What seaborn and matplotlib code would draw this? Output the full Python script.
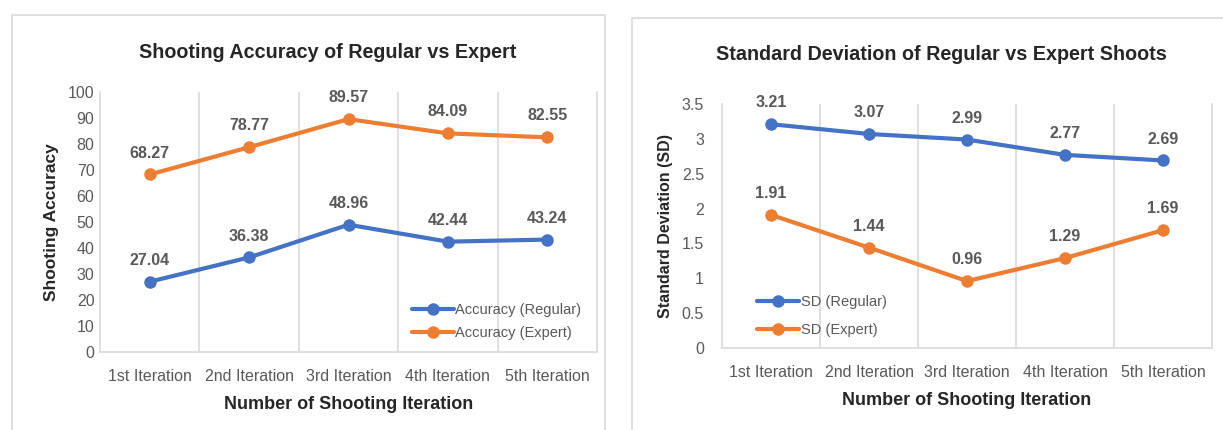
import matplotlib
matplotlib.use("Agg")
import matplotlib.pyplot as plt
import seaborn as sns
import pandas as pd
from matplotlib.patches import Rectangle

# Data
iterations = ['1st Iteration', '2nd Iteration', '3rd Iteration', '4th Iteration', '5th Iteration']
acc_regular = [27.04, 36.38, 48.96, 42.44, 43.24]
acc_expert = [68.27, 78.77, 89.57, 84.09, 82.55]
sd_regular = [3.21, 3.07, 2.99, 2.77, 2.69]
sd_expert = [1.91, 1.44, 0.96, 1.29, 1.69]

acc_yticks = list(range(0, 101, 10))
sd_yticks = [0, 0.5, 1, 1.5, 2, 2.5, 3, 3.5]

BLUE = '#4472C4'
ORANGE = '#ED7D31'
GREY = '#595959'
GRID = '#D9D9D9'

sns.set_style('white')
plt.rcParams['font.family'] = ['Liberation Sans', 'DejaVu Sans']

W, H = 1223, 430
fig = plt.figure(figsize=(W / 100, H / 100), dpi=100)

# panel frames like the spreadsheet chart boxes
fig.patches.append(Rectangle((12 / W, -0.01), 593 / W, 1 - 15 / H + 0.01,
                             transform=fig.transFigure, fill=False, edgecolor=GRID, lw=1.2))
fig.patches.append(Rectangle((632 / W, -0.01), 600 / W, 1 - 18 / H + 0.01,
                             transform=fig.transFigure, fill=False, edgecolor=GRID, lw=1.2))

ax1 = fig.add_axes([100 / W, 1 - 352 / H, 497 / W, 260 / H])
ax2 = fig.add_axes([722 / W, 1 - 348 / H, 490 / W, 244 / H])


def draw(ax, reg, exp, names, yticks, ymax, ylabel, ylabel_size, ytick_pad,
         legend_loc, legend_anchor, legend_space):
    df = pd.DataFrame({'Iteration': iterations * 2,
                       'Value': reg + exp,
                       'Series': [names[0]] * 5 + [names[1]] * 5})
    sns.lineplot(data=df, x='Iteration', y='Value', hue='Series',
                 palette=[BLUE, ORANGE], marker='o', markersize=9, linewidth=3,
                 markeredgewidth=0, ax=ax)
    for vals in (reg, exp):
        for i, v in enumerate(vals):
            ax.annotate('{:.2f}'.format(v), (i, v), xytext=(0, 10), textcoords='offset points',
                        ha='center', va='bottom', fontsize=11.5, fontweight='bold', color=GREY)
    ax.set_xlim(-0.5, 4.5)
    ax.set_ylim(0, ymax)
    ax.set_yticks(yticks)
    ax.set_yticklabels([('%g' % t) for t in yticks], fontsize=11.5, color=GREY)
    ax.set_xticks(range(5))
    ax.set_xticklabels(iterations, fontsize=11.5, color=GREY)
    ax.tick_params(axis='x', length=0, pad=12)
    ax.tick_params(axis='y', length=0, pad=ytick_pad)
    for x in [0.5, 1.5, 2.5, 3.5]:
        ax.axvline(x, color=GRID, lw=1.2, zorder=0)
    for s in ['left', 'bottom', 'right']:
        ax.spines[s].set_color(GRID)
        ax.spines[s].set_linewidth(1.2)
    ax.spines['top'].set_visible(False)
    ax.set_xlabel('Number of Shooting Iteration', fontsize=13, fontweight='bold', labelpad=9)
    ax.set_ylabel(ylabel, fontsize=ylabel_size, fontweight='bold', labelpad=6)
    leg = ax.legend(loc=legend_loc, bbox_to_anchor=legend_anchor, frameon=False,
                    handlelength=2.9, handletextpad=0.1, labelspacing=legend_space,
                    prop={'size': 10.5})
    for t in leg.get_texts():
        t.set_color(GREY)


draw(ax1, acc_regular, acc_expert, ['Accuracy (Regular)', 'Accuracy (Expert)'],
     acc_yticks, 100, 'Shooting Accuracy', 12.5, 4,
     'lower right', (0.995, -0.005), 0.6)
draw(ax2, sd_regular, sd_expert, ['SD (Regular)', 'SD (Expert)'],
     sd_yticks, 3.5, 'Standard Deviation (SD)', 11.5, 13,
     'lower left', (0.045, -0.01), 1.0)

fig.text(328 / W, 1 - 52 / H, 'Shooting Accuracy of Regular vs Expert',
         ha='center', va='center', fontsize=14.2, fontweight='bold')
fig.text(941 / W, 1 - 55 / H, 'Standard Deviation of Regular vs Expert Shoots',
         ha='center', va='center', fontsize=14.2, fontweight='bold')

fig.savefig('out.png', dpi=100)
